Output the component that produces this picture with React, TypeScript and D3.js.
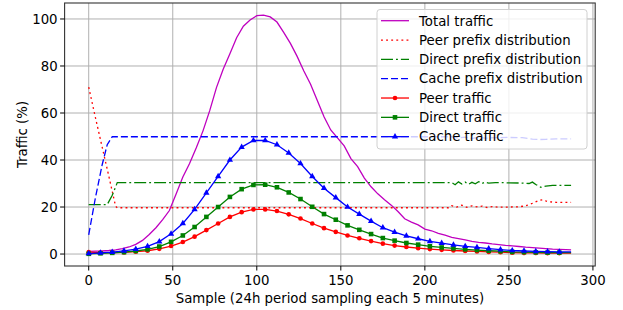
import React, { useEffect, useRef } from 'react';
import * as d3 from 'd3';

// total traffic, sampled every 4 samples
const totalTraffic: [number, number][] = [
  [0, 1.1], [4, 1.2], [8, 1.3], [12, 1.5], [16, 1.8], [20, 2.3], [24, 3.0], [28, 4.1],
  [32, 5.8], [36, 8.3], [40, 11.2], [44, 14.6], [48, 18.5], [52, 25.5], [56, 32.8], [60, 38.5],
  [64, 45.2], [68, 52.4], [72, 61.0], [76, 70.8], [80, 78.6], [84, 85.2], [88, 92.0], [92, 96.9],
  [96, 99.6], [100, 101.4], [104, 101.6], [108, 100.9], [112, 98.7], [116, 94.3], [120, 89.6],
  [124, 84.1], [128, 77.9], [132, 72.2], [136, 65.3], [140, 58.4], [144, 52.8], [148, 49.4],
  [152, 46.0], [156, 40.6], [160, 37.2], [164, 32.3], [168, 28.6], [172, 25.6], [176, 23.1],
  [180, 20.8], [184, 18.1], [188, 15.0], [192, 13.6], [196, 12.4], [200, 10.6], [204, 9.9],
  [208, 8.8], [212, 8.0], [216, 7.1], [220, 6.6], [224, 6.0], [228, 5.4], [232, 5.0], [236, 4.7],
  [240, 4.3], [244, 4.0], [248, 3.7], [252, 3.5], [256, 3.2], [260, 2.9], [264, 2.7], [268, 2.5],
  [272, 2.3], [276, 2.1], [280, 2.0], [284, 1.9], [287, 1.8],
];

const peerPrefix: [number, number][] = [
  [0, 71], [4, 58], [8, 45.5], [12, 33], [16, 20.3], [17, 19.7], [214, 19.7], [216, 20.6],
  [219, 20.0], [222, 20.8], [225, 19.9], [228, 20.5], [231, 20.1], [234, 20.4], [237, 19.8],
  [240, 20.2], [244, 19.9], [250, 20.0], [256, 20.1], [260, 20.5], [264, 21.6], [268, 22.8],
  [270, 23.1], [273, 22.3], [278, 22.0], [287, 22.0],
];

const directPrefix: [number, number][] = [
  [0, 21], [11, 21], [14, 25], [17, 30.4], [216, 30.4], [218, 29.5], [220, 30.7], [222, 29.8],
  [224, 30.6], [226, 29.7], [228, 30.5], [230, 29.9], [232, 30.8], [234, 30.0], [236, 30.6],
  [238, 30.2], [242, 30.4], [250, 30.3], [258, 30.2], [262, 30.0], [264, 30.6], [266, 29.6],
  [269, 28.4], [272, 28.9], [276, 29.2], [287, 29.2],
];

const cachePrefix: [number, number][] = [
  [0, 8.2], [4, 24], [8, 38], [11, 46.5], [14, 49.9], [216, 49.9], [220, 49.4], [224, 49.7],
  [228, 49.2], [232, 49.6], [236, 49.3], [242, 49.5], [250, 49.6], [258, 49.5], [264, 48.9],
  [268, 48.7], [272, 48.8], [278, 49.0], [287, 49.0],
];

// traffic split, one value every 7 samples (last at 287)
const trafficSamples = [
  0, 7, 14, 21, 28, 35, 42, 49, 56, 63, 70, 77, 84, 91, 98, 105, 112, 119, 126, 133, 140,
  147, 154, 161, 168, 175, 182, 189, 196, 203, 210, 217, 224, 231, 238, 245, 252, 259, 266,
  273, 280, 287,
];
const peerTraffic = [
  0.8, 0.6, 0.6, 0.7, 1.0, 1.4, 2.2, 3.4, 5.1, 7.4, 10.2, 13, 15.8, 17.8, 19, 19, 18.3, 16.9,
  15.1, 13, 11, 9.4, 7.9, 6.7, 5.5, 4.4, 3.6, 3.0, 2.5, 2.1, 1.8, 1.5, 1.3, 1.1, 0.9, 0.8, 0.6,
  0.5, 0.5, 0.4, 0.4, 0.4,
];
const directTraffic = [
  0.1, 0.3, 0.5, 0.8, 1.3, 2.0, 3.2, 5.2, 7.9, 11.5, 15.8, 20, 24.3, 27.6, 29.4, 29.5, 28.4,
  26.2, 23.4, 20.1, 17, 14.6, 12.2, 10.3, 8.5, 6.8, 5.7, 4.7, 4.0, 3.3, 2.8, 2.4, 2.0, 1.7, 1.4,
  1.2, 0.9, 0.8, 0.7, 0.6, 0.6, 0.6,
];
const cacheTraffic = [
  0.2, 0.5, 0.8, 1.3, 2.1, 3.3, 5.3, 8.6, 13, 19, 26, 33, 40, 45.5, 48.3, 48.3, 46.5, 43, 38.5,
  33, 28, 24, 20, 17, 14, 11.2, 9.3, 7.7, 6.5, 5.4, 4.6, 3.9, 3.3, 2.8, 2.3, 1.9, 1.5, 1.3, 1.1,
  1.0, 0.9, 0.9,
];

const xTicks = [0, 50, 100, 150, 200, 250, 300];
const yTicks = [0, 20, 40, 60, 80, 100];

const FONT = '"DejaVu Sans", sans-serif';

const App = () => {
  const ref = useRef<SVGSVGElement | null>(null);

  useEffect(() => {
    document.body.style.margin = '0';
    const svgEl = ref.current;
    if (!svgEl) return;
    const svg = d3.select(svgEl);
    svg.selectAll('*').remove();

    const left = 64.6, right = 595.2, top = 3, bottom = 266;
    const x = d3.scaleLinear().domain([-14.35, 301.35]).range([left, right]);
    const y = d3.scaleLinear().domain([-5.09, 106.8]).range([bottom, top]);

    const grid = svg.append('g');
    xTicks.forEach((t) => {
      grid.append('line').attr('x1', x(t)).attr('x2', x(t)).attr('y1', top).attr('y2', bottom)
        .attr('stroke', '#b0b0b0').attr('stroke-width', 1);
    });
    yTicks.forEach((t) => {
      grid.append('line').attr('x1', left).attr('x2', right).attr('y1', y(t)).attr('y2', y(t))
        .attr('stroke', '#b0b0b0').attr('stroke-width', 1);
    });

    const line = d3.line<[number, number]>().x((d) => x(d[0])).y((d) => y(d[1]));
    const lw = 1.3;

    const plot = svg.append('g');
    plot.append('path').attr('d', line(totalTraffic)).attr('fill', 'none')
      .attr('stroke', '#bf00bf').attr('stroke-width', lw);
    plot.append('path').attr('d', line(peerPrefix)).attr('fill', 'none')
      .attr('stroke', '#ff0000').attr('stroke-width', lw).attr('stroke-dasharray', '1.9,3.2');
    plot.append('path').attr('d', line(directPrefix)).attr('fill', 'none')
      .attr('stroke', '#008000').attr('stroke-width', lw).attr('stroke-dasharray', '12,3,1.9,3');
    plot.append('path').attr('d', line(cachePrefix)).attr('fill', 'none')
      .attr('stroke', '#0000ff').attr('stroke-width', lw).attr('stroke-dasharray', '7,3');

    const markerSeries = [
      { values: peerTraffic, color: '#ff0000', symbol: d3.symbolCircle, size: 17 },
      { values: directTraffic, color: '#008000', symbol: d3.symbolSquare, size: 21 },
      { values: cacheTraffic, color: '#0000ff', symbol: d3.symbolTriangle, size: 17 },
    ];
    markerSeries.forEach((s) => {
      const pts: [number, number][] = trafficSamples.map((t, i) => [t, s.values[i]]);
      plot.append('path').attr('d', line(pts)).attr('fill', 'none')
        .attr('stroke', s.color).attr('stroke-width', lw);
      const sym = d3.symbol().type(s.symbol).size(s.size);
      plot.selectAll(null).data(pts.filter((p) => p[0] <= 280)).enter().append('path')
        .attr('d', sym()).attr('fill', s.color)
        .attr('transform', (d) => `translate(${x(d[0])},${y(d[1])})`);
    });

    // spines
    svg.append('rect').attr('x', left).attr('y', top).attr('width', right - left)
      .attr('height', bottom - top).attr('fill', 'none').attr('stroke', '#333').attr('stroke-width', 1.1);

    const axisG = svg.append('g').style('font-family', FONT).style('font-size', '13.3px').attr('fill', '#000');
    xTicks.forEach((t) => {
      axisG.append('line').attr('x1', x(t)).attr('x2', x(t)).attr('y1', bottom).attr('y2', bottom + 4.5)
        .attr('stroke', '#000').attr('stroke-width', 1);
      axisG.append('text').attr('x', x(t)).attr('y', bottom + 19).attr('text-anchor', 'middle').text(t);
    });
    yTicks.forEach((t) => {
      axisG.append('line').attr('x1', left - 4.5).attr('x2', left).attr('y1', y(t)).attr('y2', y(t))
        .attr('stroke', '#000').attr('stroke-width', 1);
      axisG.append('text').attr('x', left - 7).attr('y', y(t) + 4.8).attr('text-anchor', 'end').text(t);
    });
    axisG.append('text').attr('x', (left + right) / 2).attr('y', 303).attr('text-anchor', 'middle')
      .text('Sample (24h period sampling each 5 minutes)');
    axisG.append('text').attr('transform', `translate(26.5,${(top + bottom) / 2}) rotate(-90)`)
      .attr('text-anchor', 'middle').text('Traffic (%)');

    // legend
    const legend = svg.append('g').style('font-family', FONT).style('font-size', '13.3px');
    legend.append('rect').attr('x', 377).attr('y', 9.5).attr('width', 210).attr('height', 139.5)
      .attr('rx', 3).attr('fill', 'rgba(255,255,255,0.8)').attr('stroke', '#d0d0d0').attr('stroke-width', 1);
    const items = [
      { label: 'Total traffic', color: '#bf00bf', dash: null, symbol: null, size: 0 },
      { label: 'Peer prefix distribution', color: '#ff0000', dash: '1.9,3.2', symbol: null, size: 0 },
      { label: 'Direct prefix distribution', color: '#008000', dash: '12,3,1.9,3', symbol: null, size: 0 },
      { label: 'Cache prefix distribution', color: '#0000ff', dash: '7,3', symbol: null, size: 0 },
      { label: 'Peer traffic', color: '#ff0000', dash: null, symbol: d3.symbolCircle, size: 17 },
      { label: 'Direct traffic', color: '#008000', dash: null, symbol: d3.symbolSquare, size: 21 },
      { label: 'Cache traffic', color: '#0000ff', dash: null, symbol: d3.symbolTriangle, size: 17 },
    ];
    items.forEach((it, i) => {
      const cy = 20.7 + i * 19.33;
      const l = legend.append('line').attr('x1', 381).attr('x2', 409).attr('y1', cy).attr('y2', cy)
        .attr('stroke', it.color).attr('stroke-width', lw);
      if (it.dash) l.attr('stroke-dasharray', it.dash);
      if (it.symbol) {
        legend.append('path').attr('d', d3.symbol().type(it.symbol).size(it.size)())
          .attr('fill', it.color).attr('transform', `translate(395,${cy})`);
      }
      legend.append('text').attr('x', 419).attr('y', cy + 4.8).attr('fill', '#000').text(it.label);
    });
  }, []);

  return <svg ref={ref} width={623} height={310} style={{ display: 'block' }} />;
};

export default App;
